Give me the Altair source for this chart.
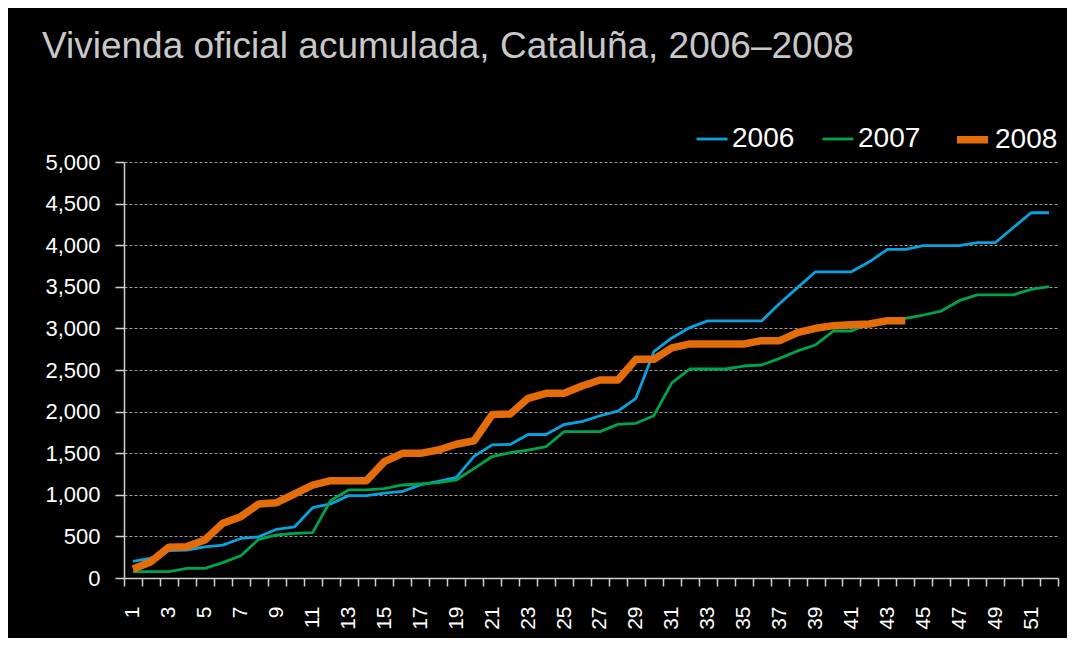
import altair as alt
import pandas as pd

weeks = list(range(1, 53))

v2006 = [200, 240, 330, 335, 375, 395, 475, 495, 585, 615, 845, 890, 990, 990, 1020,
         1040, 1120, 1160, 1210, 1465, 1600, 1605, 1725, 1725, 1845, 1880, 1950, 2005,
         2160, 2720, 2885, 3010, 3090, 3090, 3090, 3090, 3300, 3490, 3680, 3680, 3680,
         3800, 3950, 3950, 3995, 3995, 3995, 4030, 4030, 4210, 4390, 4390]

v2007 = [76, 76, 76, 115, 115, 185, 268, 465, 517, 537, 545, 930, 1058, 1058, 1074,
         1118, 1130, 1146, 1178, 1318, 1460, 1506, 1538, 1578, 1759, 1759, 1759, 1847,
         1859, 1951, 2345, 2512, 2512, 2512, 2548, 2560, 2640, 2729, 2801, 2969, 2969,
         3061, 3101, 3121, 3161, 3209, 3333, 3402, 3402, 3402, 3470, 3502]

v2008 = [108, 196, 369, 377, 457, 657, 737, 889, 905, 1010, 1115, 1170, 1170, 1170,
         1398, 1498, 1498, 1538, 1607, 1650, 1965, 1971, 2160, 2220, 2220, 2308, 2380,
         2380, 2628, 2628, 2765, 2813, 2813, 2813, 2813, 2853, 2853, 2949, 3001, 3033,
         3045, 3053, 3093, 3093]

years = ["2006", "2007", "2008"]
colors = ["#0aa2de", "#00a44c", "#e46c0a"]
widths = [2.8, 2.8, 7.5]

rows = []
for yr, vals in zip(years, [v2006, v2007, v2008]):
    for w, v in zip(weeks, vals):
        rows.append({"semana": w, "valor": v, "año": yr})
df = pd.DataFrame(rows)

tick_values = [i + 0.5 for i in range(0, 53)] + list(range(1, 53, 2))

FONT = "Liberation Sans"

legend = alt.Legend(
    title=None,
    orient="none",
    direction="horizontal",
    legendX=571,
    legendY=-42,
    symbolType="stroke",
    symbolSize=961,
    labelColor="white",
    labelFont=FONT,
    labelFontSize=28,
    labelOffset=3,
    columnPadding=21,
    padding=0,
)

chart = alt.Chart(df).mark_line(strokeJoin="round").encode(
    x=alt.X(
        "semana:Q",
        scale=alt.Scale(domain=[0.5, 52.5], nice=False, zero=False),
        axis=alt.Axis(
            title=None,
            values=tick_values,
            labelExpr="datum.value % 1 === 0 ? datum.value : ''",
            tickColor={"condition": {"test": "datum.value % 1 === 0", "value": "transparent"},
                       "value": "#d0d0d0"},
            labelAngle=270,
            labelAlign="right",
            labelBaseline="middle",
            labelPadding=20,
            labelOverlap=False,
            labelFlush=False,
            labelColor="white",
            labelFont=FONT,
            labelFontSize=21,
            tickSize=8,
            tickWidth=1.5,
            domainColor="#d0d0d0",
            domainWidth=1.5,
            grid=False,
        ),
    ),
    y=alt.Y(
        "valor:Q",
        scale=alt.Scale(domain=[0, 5000], nice=False),
        axis=alt.Axis(
            title=None,
            values=list(range(0, 5001, 500)),
            format=",d",
            labelColor="white",
            labelFont=FONT,
            labelFontSize=22,
            labelPadding=15,
            tickSize=9,
            tickColor="#d0d0d0",
            tickWidth=1.5,
            domainColor="#d0d0d0",
            domainWidth=1.5,
            grid=True,
            gridColor="#9a9a9a",
            gridDash=[3, 2],
            gridWidth=1,
        ),
    ),
    color=alt.Color(
        "año:N",
        scale=alt.Scale(type="ordinal", domain=years, range=colors),
        legend=legend,
    ),
    strokeWidth=alt.StrokeWidth(
        "año:N",
        scale=alt.Scale(type="ordinal", domain=years, range=widths),
        legend=legend,
    ),
    order=alt.Order("semana:Q"),
).properties(
    width=934,
    height=416,
    title=alt.TitleParams(
        "Vivienda oficial acumulada, Cataluña, 2006–2008",
        anchor="start",
        color="#c8c8c8",
        font=FONT,
        fontSize=37,
        fontWeight="normal",
        dx=-3,
        dy=-50,
    ),
    padding={"left": 116, "top": 154, "right": 9, "bottom": 60},
    autosize=alt.AutoSizeParams(type="none"),
    background="black",
).configure_view(stroke=None)

chart.save("out.html", embed_options={"renderer": "svg", "actions": False})
